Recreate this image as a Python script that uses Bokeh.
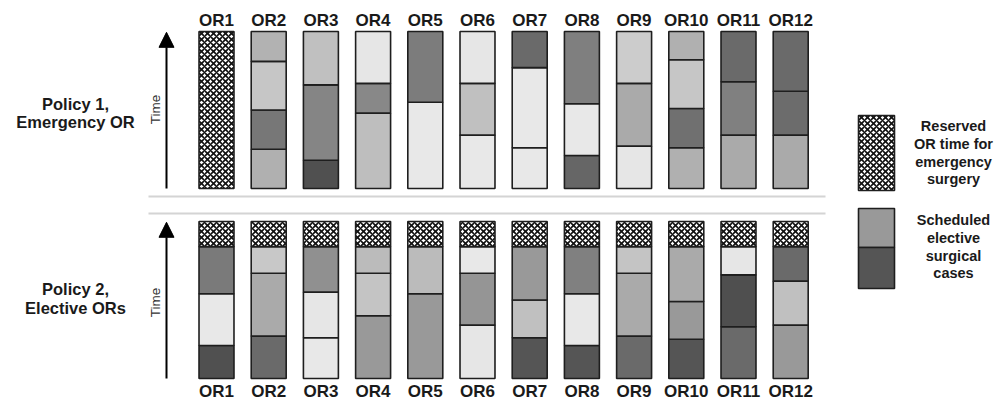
from bokeh.plotting import figure
from bokeh.models import ColumnDataSource, Range1d, Arrow, NormalHead, Label
from bokeh.embed import file_html
from bokeh.resources import INLINE
from bokeh.core.properties import value

# ---------------- data ----------------
or_labels = ["OR1", "OR2", "OR3", "OR4", "OR5", "OR6",
             "OR7", "OR8", "OR9", "OR10", "OR11", "OR12"]

# Policy 1 (emergency OR): elective case durations, bottom -> top (time units, 100 = day)
p1_durations = [
    [],
    [25, 25, 31, 19],
    [18, 48, 34],
    [48, 19, 33],
    [55, 45],
    [34, 33, 33],
    [26, 51, 23],
    [21, 33, 46],
    [27, 40, 33],
    [26, 25, 31, 18],
    [34, 34, 32],
    [34, 28, 38],
]
p1_shades = [
    [],
    ["#b0b0b0", "#777777", "#c6c6c6", "#b2b2b2"],
    ["#505050", "#858585", "#c0c0c0"],
    ["#bebebe", "#888888", "#e6e6e6"],
    ["#e8e8e8", "#7c7c7c"],
    ["#e8e8e8", "#c0c0c0", "#e6e6e6"],
    ["#e8e8e8", "#e8e8e8", "#6a6a6a"],
    ["#666666", "#e8e8e8", "#7f7f7f"],
    ["#e6e6e6", "#aaaaaa", "#cccccc"],
    ["#b0b0b0", "#707070", "#c6c6c6", "#b0b0b0"],
    ["#aaaaaa", "#808080", "#6a6a6a"],
    ["#aaaaaa", "#6c6c6c", "#6a6a6a"],
]
p1_reserved = [100, 0, 0, 0, 0, 0, 0, 0, 0, 0, 0, 0]

# Policy 2 (elective ORs): each OR keeps a reserved block on top
p2_durations = [
    [21, 33, 30],
    [27, 40, 17],
    [26, 29, 29],
    [40, 27, 17],
    [54, 30],
    [34, 33, 17],
    [26, 24, 34],
    [21, 33, 30],
    [27, 40, 17],
    [25, 24, 35],
    [33, 33, 18],
    [34, 28, 22],
]
p2_shades = [
    ["#505050", "#e8e8e8", "#7a7a7a"],
    ["#6a6a6a", "#aaaaaa", "#c8c8c8"],
    ["#e8e8e8", "#e6e6e6", "#909090"],
    ["#999999", "#c4c4c4", "#bbbbbb"],
    ["#999999", "#bbbbbb"],
    ["#e6e6e6", "#959595", "#e8e8e8"],
    ["#555555", "#c0c0c0", "#999999"],
    ["#555555", "#e8e8e8", "#808080"],
    ["#6a6a6a", "#aaaaaa", "#c4c4c4"],
    ["#555555", "#999999", "#aaaaaa"],
    ["#6a6a6a", "#4f4f4f", "#e6e6e6"],
    ["#999999", "#c0c0c0", "#6a6a6a"],
]
p2_reserved = [16] * 12

panel_titles = [["Policy 1,", "Emergency OR"], ["Policy 2,", "Elective ORs"]]
legend_texts = [["Reserved", "OR time for", "emergency", "surgery"],
                ["Scheduled", "elective", "surgical", "cases"]]

# ---------------- layout ----------------
W, H = 1002, 400
PX_OR = 52.2          # pixels per OR slot
OR1_X = 216           # pixel centre of OR1
PX_T = 1.57           # pixels per time unit
BASE_Y = 378          # pixel y of policy-2 time zero
P1_BASE = 121         # time offset of policy-1 panel
BAR_W = 0.67

x0 = 1 - OR1_X / PX_OR
y_top = BASE_Y / PX_T
y_bot = -(H - BASE_Y) / PX_T


def dx(px):
    return x0 + px / PX_OR


def dy(py):
    return (BASE_Y - py) / PX_T


p = figure(width=W, height=H, output_backend="svg", toolbar_location=None,
           x_range=Range1d(x0, x0 + W / PX_OR), y_range=Range1d(y_bot, y_top),
           min_border=0)
p.axis.visible = False
p.grid.visible = False
p.outline_line_color = None
p.background_fill_color = "white"
p.border_fill_color = "white"

FONT = value("Liberation Sans")

# ---------------- bars ----------------
seg = dict(left=[], right=[], bottom=[], top=[], color=[])
hat = dict(left=[], right=[], bottom=[], top=[])
for base, durs, shades, reserved in [(P1_BASE, p1_durations, p1_shades, p1_reserved),
                                     (0, p2_durations, p2_shades, p2_reserved)]:
    for i in range(12):
        xc = i + 1
        cur = base
        for d, c in zip(durs[i], shades[i]):
            seg["left"].append(xc - BAR_W / 2)
            seg["right"].append(xc + BAR_W / 2)
            seg["bottom"].append(cur)
            seg["top"].append(cur + d)
            seg["color"].append(c)
            cur += d
        if reserved[i]:
            hat["left"].append(xc - BAR_W / 2)
            hat["right"].append(xc + BAR_W / 2)
            hat["bottom"].append(cur)
            hat["top"].append(cur + reserved[i])

p.quad(left="left", right="right", bottom="bottom", top="top", fill_color="color",
       line_color="#1e1e1e", line_width=1.6, source=ColumnDataSource(seg))
p.quad(left="left", right="right", bottom="bottom", top="top", fill_color="white",
       hatch_pattern="diagonal_cross", hatch_color="#111111", hatch_scale=6,
       hatch_weight=1.6, line_color="#1e1e1e", line_width=1.6,
       source=ColumnDataSource(hat))

# ---------------- OR labels ----------------
xs = [i + 1 for i in range(12)]
p.text(x=xs, y=[dy(20)] * 12, text=or_labels, text_font=FONT,
       text_font_style="bold", text_font_size="17px", text_color="#1a1a1a",
       text_align="center", text_baseline="middle")
p.text(x=xs, y=[dy(391)] * 12, text=or_labels, text_font=FONT,
       text_font_style="bold", text_font_size="17px", text_color="#1a1a1a",
       text_align="center", text_baseline="middle")

# ---------------- separators ----------------
for py in (196, 213):
    p.line(x=[dx(148), dx(825)], y=[dy(py)] * 2, line_color="#d4d4d4",
           line_width=2)

# ---------------- time arrows ----------------
ax = dx(166)
for ys, ye in ((P1_BASE, P1_BASE + 100), (0, 100)):
    p.add_layout(Arrow(end=NormalHead(size=15, fill_color="black", line_color="black"),
                       x_start=ax, y_start=ys, x_end=ax, y_end=ye - 0.5,
                       line_width=2, line_color="black"))
for ty in (109, 302):
    p.add_layout(Label(x=dx(155), y=dy(ty), text="Time", angle=1.5708,
                       text_font="Liberation Sans", text_font_size="13.5px",
                       text_color="#333333", text_align="center",
                       text_baseline="middle"))

# ---------------- panel titles ----------------
for lines, ys in zip(panel_titles, ((103, 121), (288, 307))):
    for t, ty in zip(lines, ys):
        p.add_layout(Label(x=dx(75), y=dy(ty), text=t,
                           text_font="Liberation Sans", text_font_style="bold",
                           text_font_size="16.5px", text_color="#1a1a1a",
                           text_align="center", text_baseline="middle"))

# ---------------- legend ----------------
lx0, lx1 = dx(858), dx(894)
p.quad(left=[lx0], right=[lx1], bottom=[dy(190)], top=[dy(115)],
       fill_color="white", hatch_pattern="diagonal_cross", hatch_color="#111111",
       hatch_scale=6, hatch_weight=1.6, line_color="#1e1e1e", line_width=1.6)
p.quad(left=[lx0, lx0], right=[lx1, lx1], bottom=[dy(247), dy(288)],
       top=[dy(208), dy(247)], fill_color=["#999999", "#555555"],
       line_color="#1e1e1e", line_width=1.6)
for lines, ys in zip(legend_texts, ((125, 143, 161, 178), (219, 237, 255, 272))):
    for t, ty in zip(lines, ys):
        p.add_layout(Label(x=dx(953), y=dy(ty), text=t,
                           text_font="Liberation Sans", text_font_style="bold",
                           text_font_size="14.5px", text_color="#1a1a1a",
                           text_align="center", text_baseline="middle"))

open("out.html", "w").write(file_html(p, INLINE))
